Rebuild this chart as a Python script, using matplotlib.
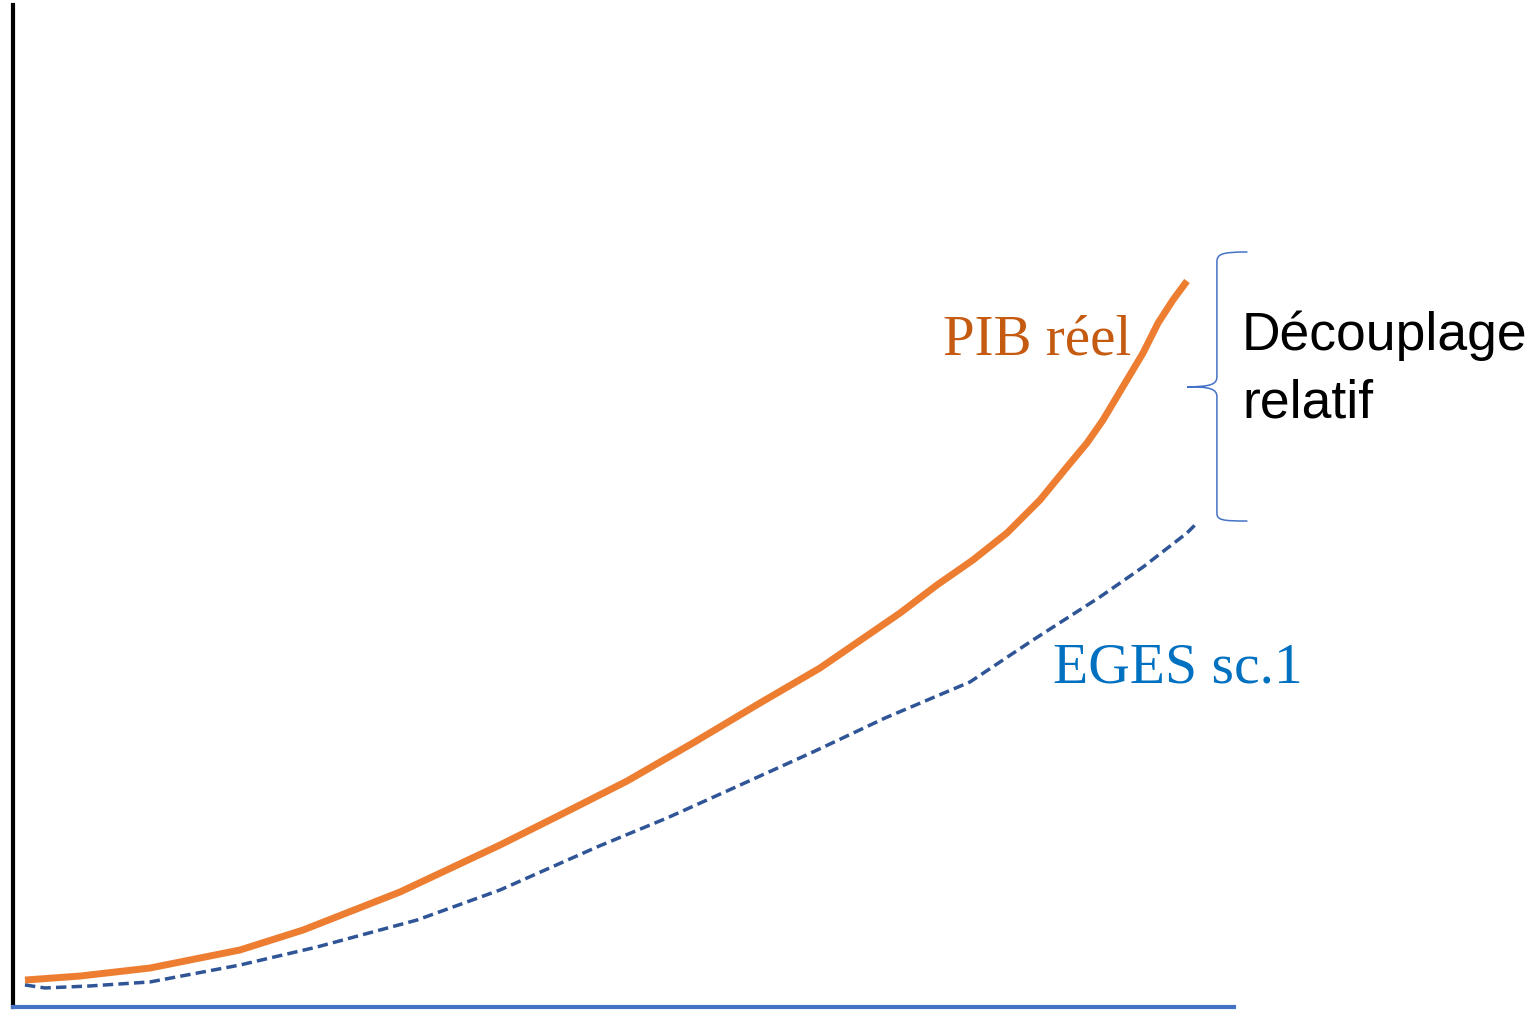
import matplotlib.pyplot as plt
from matplotlib.path import Path
from matplotlib.patches import PathPatch

# Courbes (unités arbitraires, 0-100)
pib_x = [0.98, 5.49, 11.22, 18.59, 23.75, 31.70, 39.89, 44.80, 50.29, 55.69,
         61.18, 66.09, 72.65, 75.68, 78.62, 81.41, 84.11, 86.32, 87.96, 89.27,
         92.55, 93.78, 95.00, 96.15]
pib_y = [2.69, 3.09, 3.89, 5.69, 7.68, 11.48, 16.17, 19.16, 22.55, 26.35,
         30.34, 33.83, 39.32, 42.12, 44.61, 47.31, 50.60, 53.89, 56.29, 58.58,
         65.27, 68.26, 70.56, 72.46]

eges_x = [0.98, 2.62, 6.31, 11.22, 18.59, 24.90, 33.09, 39.89, 47.83, 53.56,
          58.48, 65.52, 71.42, 78.38, 83.54, 89.02, 92.55, 96.15, 97.05]
eges_y = [2.20, 1.90, 2.10, 2.50, 4.19, 5.99, 8.68, 11.68, 15.97, 18.86,
          21.56, 25.45, 28.84, 32.44, 36.63, 40.92, 43.91, 47.31, 48.40]

label_pib = 'PIB réel'
label_eges = 'EGES sc.1'
label_brace = ['Découplage', 'relatif']

ORANGE = '#ED7D31'
DARK_BLUE = '#2F5597'
BLUE = '#4472C4'

fig = plt.figure(figsize=(15.37, 10.10), dpi=100)
ax = fig.add_axes([13 / 1537, 3 / 1010, 1221 / 1537, 1002 / 1010])
ax.set_xlim(0, 100)
ax.set_ylim(0, 100)

ax.plot(pib_x, pib_y, color=ORANGE, lw=5, solid_capstyle='butt', solid_joinstyle='round')
ax.plot(eges_x, eges_y, color=DARK_BLUE, lw=2.5, linestyle=(0, (3, 1.5)))

# axes
for side in ['top', 'right']:
    ax.spines[side].set_visible(False)
ax.spines['left'].set_color('black')
ax.spines['left'].set_linewidth(3)
ax.spines['bottom'].set_color(BLUE)
ax.spines['bottom'].set_linewidth(3)
ax.set_xticks([])
ax.set_yticks([])

# accolade
top, bot, mid = 75.35, 48.5, 61.9
xv, xt, xe = 98.6, 96.15, 101.1
verts = [
    (xe, top), (xv + 0.4, top), (xv, top - 0.2), (xv, top - 1.0),
    (xv, mid + 1.0),
    (xv, mid + 0.2), (xv - 0.6, mid), (xt, mid),
    (xv - 0.6, mid), (xv, mid - 0.2), (xv, mid - 1.0),
    (xv, bot + 0.8),
    (xv, bot + 0.1), (xv + 0.4, bot), (xe, bot),
]
codes = [Path.MOVETO, Path.CURVE4, Path.CURVE4, Path.CURVE4,
         Path.LINETO,
         Path.CURVE4, Path.CURVE4, Path.CURVE4,
         Path.CURVE4, Path.CURVE4, Path.CURVE4,
         Path.LINETO,
         Path.CURVE4, Path.CURVE4, Path.CURVE4]
ax.add_patch(PathPatch(Path(verts, codes), fill=False, edgecolor=BLUE, lw=1.1, clip_on=False))

# textes
ax.text(76.17, 65.07, label_pib, color='#C55A11', fontsize=41,
        family='Liberation Serif', va='baseline', ha='left')
ax.text(85.18, 32.34, label_eges, color='#0070C0', fontsize=41.5,
        family='Liberation Serif', va='baseline', ha='left')
for line, yb in zip(label_brace, [65.57, 58.88]):
    ax.text(100.66, yb, line, color='black', fontsize=38.5,
            family='Liberation Sans', va='baseline', ha='left', clip_on=False)

fig.savefig('out.png', dpi=100, facecolor='white')
